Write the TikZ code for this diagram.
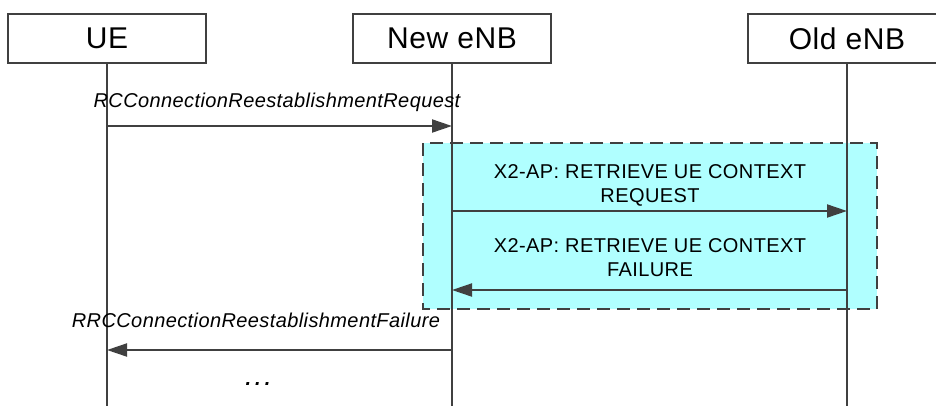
\documentclass[tikz,border=0pt]{standalone}
\usepackage{fontspec}
\setmainfont{Liberation Sans}
\usetikzlibrary{arrows.meta}
\definecolor{linegray}{RGB}{64,64,64}
\definecolor{cyanfill}{RGB}{176,255,255}
\begin{document}
\begin{tikzpicture}[x=1pt,y=-1pt,
  entity/.style={draw=linegray, line width=2.2pt, fill=white, minimum width=198pt, minimum height=49pt,
    font=\fontsize{30}{34}\selectfont\addfontfeature{LetterSpace=2}, inner sep=0pt},
  lifeline/.style={draw=linegray, line width=1.5pt},
  msg/.style={draw=linegray, line width=2pt, -{Triangle[length=20pt,width=13pt]}},
  lbl/.style={font=\fontsize{20}{24}\selectfont\itshape\addfontfeature{LetterSpace=2}, inner sep=0pt, anchor=base},
  xlbl/.style={font=\fontsize{20}{24}\selectfont\addfontfeature{LetterSpace=2}, align=center, inner sep=0pt},
  groupbox/.style={draw=linegray, line width=2pt, fill=cyanfill, dash pattern=on 13pt off 7pt}
]
\useasboundingbox (0,0) rectangle (936,405);
\clip (0,0) rectangle (936,405);

% group box
\draw[groupbox] (423,143) rectangle (877,309);

% entities
\node[entity] (ue)  at (107,38.5) {UE};
\node[entity] (new) at (452,38.5) {New eNB};
\node[entity] (old) at (847,38.5) {Old eNB};

% lifelines
\coordinate (ueEnd)  at (107,406);
\coordinate (newEnd) at (452,406);
\coordinate (oldEnd) at (847,406);
\draw[lifeline] (ue.south) -- (ueEnd);
\draw[lifeline] (new.south) -- (newEnd);
\draw[lifeline] (old.south) -- (oldEnd);

% message points
\coordinate (m1a) at (107,126);
\coordinate (m1b) at (452,126);
\coordinate (m2a) at (452,211);
\coordinate (m2b) at (847,211);
\coordinate (m3a) at (847,290);
\coordinate (m3b) at (452,290);
\coordinate (m4a) at (452,350);
\coordinate (m4b) at (107,350);

\draw[msg] (m1a) -- (m1b);
\draw[msg] (m2a) -- (m2b);
\draw[msg] (m3a) -- (m3b);
\draw[msg] (m4a) -- (m4b);

% labels
\node[lbl] (l1) at (277,107) {RCConnectionReestablishmentRequest};
\node[xlbl] (l2) at (650,185) {X2-AP: RETRIEVE UE CONTEXT\\REQUEST};
\node[xlbl] (l3) at (650,258) {X2-AP: RETRIEVE UE CONTEXT\\FAILURE};
\node[lbl] (l4) at (256,327) {RRCConnectionReestablishmentFailure};
\node[font=\fontsize{20}{24}\selectfont\bfseries\itshape\addfontfeature{LetterSpace=20}, inner sep=0pt, anchor=base] (dots) at (258,385) {...};
\end{tikzpicture}
\end{document}
